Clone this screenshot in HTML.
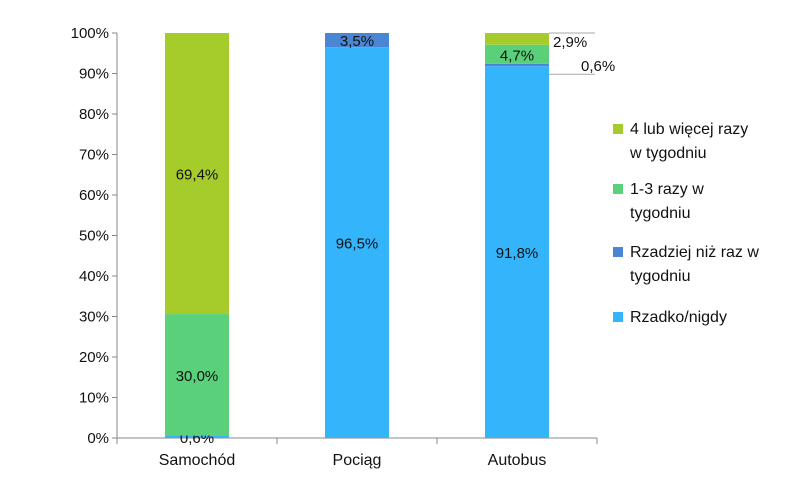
<!DOCTYPE html>
<html><head><meta charset="utf-8"><style>
body{margin:0;background:#fff}
svg text{font-family:"Liberation Sans",sans-serif;fill:#111}
</style></head><body>
<svg width="806" height="480" id="c">
<g id="axes"></g><g id="bars"></g><g id="legend"></g>
</svg>
<script>
const categories=["Samochód","Pociąg","Autobus"];
const seriesNames=["Rzadko/nigdy","Rzadziej niż raz w tygodniu","1-3 razy w tygodniu","4 lub więcej razy w tygodniu"];
const rzadko=[0.6,96.5,91.8];
const rzadziej=[0,3.5,0.6];
const raz13=[30.0,0,4.7];
const wiecej=[69.4,0,2.9];
const yTicks=[0,10,20,30,40,50,60,70,80,90,100];
const colors=["#33b4fb","#4a86d4","#5bd07a","#a6cc2c"];
const series=[rzadko,rzadziej,raz13,wiecej];
const NS="http://www.w3.org/2000/svg";
const x0=117,x1=597,yT=33,yB=438;
const y=v=>yB-(yB-yT)*v/100;
const bw=(x1-x0)/categories.length;
const cx=i=>x0+bw*(i+0.5);
function mk(t,a,p,txt){const e=document.createElementNS(NS,t);for(const k in a)e.setAttribute(k,a[k]);if(txt!=null)e.textContent=txt;p.appendChild(e);return e;}
const ax=document.getElementById('axes'),bg=document.getElementById('bars'),lg=document.getElementById('legend');
let e=mk('line',{x1:x0,y1:yT,x2:x0,y2:yB,stroke:'#888'},ax);

e=mk('line',{x1:x0,y1:yB,x2:x1,y2:yB,stroke:'#888'},ax);

yTicks.forEach(t=>{mk('line',{x1:x0-5,y1:y(t),x2:x0,y2:y(t),stroke:'#888'},ax);
 const l=mk('text',{x:x0-8,y:y(t)+5,'text-anchor':'end','font-size':15},ax,t+'%');
 });
for(let i=0;i<=categories.length;i++)mk('line',{x1:x0+bw*i,y1:yB,x2:x0+bw*i,y2:yB+6,stroke:'#888'},ax);
categories.forEach((c,i)=>{const l=mk('text',{x:cx(i),y:yB+27,'text-anchor':'middle','font-size':16},ax,c);
 });
const w=64;
const fmt=v=>v.toFixed(1).replace('.',',')+'%';
categories.forEach((c,i)=>{let acc=0;
 series.forEach((s,k)=>{const v=s[i];if(!v)return;
  const r=mk('rect',{x:cx(i)-w/2,y:y(acc+v),width:w,height:y(acc)-y(acc+v),fill:colors[k]},bg);
  
  const mid=(y(acc)+y(acc+v))/2;let lx=cx(i),ly=mid+6,anchor='middle';
  if(v<2&&acc===0){ly=yB+5;}
  else if(v<2){lx=cx(i)+w/2+52;ly=y(acc)+7;anchor='start';lx=cx(i)+w/2+32;mk('line',{x1:cx(i)+w/2,y1:y(acc)+8,x2:x1-2,y2:y(acc)+8,stroke:'#aaa'},bg);ly=y(acc)+5;}
  else if(v<3.2&&i===2){lx=cx(i)+w/2+4;ly=y(acc+v)+14;anchor='start';mk('line',{x1:cx(i)+w/2,y1:y(100),x2:x1-2,y2:y(100),stroke:'#aaa'},bg);}
  const t=mk('text',{x:lx,y:ly,'text-anchor':anchor,'font-size':15},bg,fmt(v));
  
  acc+=v;});});
const leg=[[3,["4 lub więcej razy","w tygodniu"],134],[2,["1-3 razy w","tygodniu"],194],[1,["Rzadziej niż raz w","tygodniu"],257],[0,["Rzadko/nigdy"],322]];
leg.forEach(([k,lines,yy])=>{const g=mk('g',{},lg);
 
 mk('rect',{x:613,y:yy-10,width:10,height:10,fill:colors[k]},g);
 lines.forEach((s,j)=>mk('text',{x:630,y:yy+j*24,'font-size':16},g,s));});
</script>
</body></html>
